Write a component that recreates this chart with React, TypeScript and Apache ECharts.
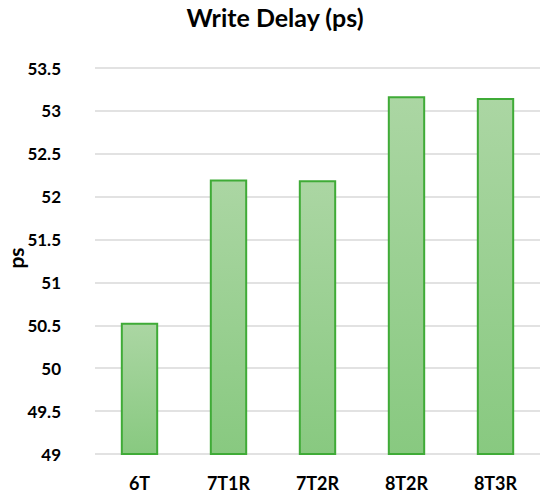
import React, { useEffect, useRef } from "react";
import * as echarts from "echarts";

const categories = ["6T", "7T1R", "7T2R", "8T2R", "8T3R"];
const values = [50.53, 52.2, 52.19, 53.17, 53.15];
const yMin = 49;
const yMax = 53.5;
const yInterval = 0.5;
const yTitle = "ps";

export default function App() {
  const ref = useRef<HTMLDivElement>(null);
  useEffect(() => {
    if (!ref.current) return;
    document.body.style.margin = "0";
    const chart = echarts.init(ref.current, null, { renderer: "svg" });
    const font = "Lato, 'Open Sans', sans-serif";
    chart.setOption({
      animation: false,
      backgroundColor: "#ffffff",
      title: {
        text: "Write Delay (ps)",
        left: "center",
        top: -1,
        textStyle: { fontFamily: font, fontWeight: "bold", fontSize: 25, color: "#000" },
      },
      graphic: [
        {
          type: "text",
          x: 15,
          y: 258,
          rotation: Math.PI / 2,
          style: {
            text: yTitle,
            fontFamily: font,
            fontWeight: "bold",
            fontSize: 21,
            fill: "#000",
            align: "center",
            verticalAlign: "middle",
          },
        },
      ],
      grid: { left: 95, right: 10, top: 68, bottom: 43, containLabel: false, outerBoundsMode: "none" },
      xAxis: {
        type: "category",
        data: categories,
        axisLine: { show: false },
        axisTick: { show: false },
        axisLabel: { fontFamily: font, fontWeight: "bold", fontSize: 18, color: "#000", margin: 20 },
      },
      yAxis: {
        type: "value",
        min: yMin,
        max: yMax,
        interval: yInterval,
        axisLine: { show: false },
        axisTick: { show: false },
        splitLine: { lineStyle: { color: "#d9d9d9", width: 1.5 } },
        axisLabel: {
          fontFamily: font,
          fontWeight: "bold",
          fontSize: 17,
          color: "#000",
          margin: 34,
          formatter: (v: number) => String(Number(v.toFixed(1))),
        },
      },
      series: [
        {
          type: "bar",
          data: values,
          barWidth: "42%",
          itemStyle: {
            color: new echarts.graphic.LinearGradient(0, 0, 0, 1, [
              { offset: 0, color: "#abd6a3" },
              { offset: 1, color: "#88c980" },
            ]),
            borderColor: "#3fab37",
            borderWidth: 2,
          },
        },
      ],
    });
    return () => chart.dispose();
  }, []);
  return <div ref={ref} style={{ width: 550, height: 497 }} />;
}
